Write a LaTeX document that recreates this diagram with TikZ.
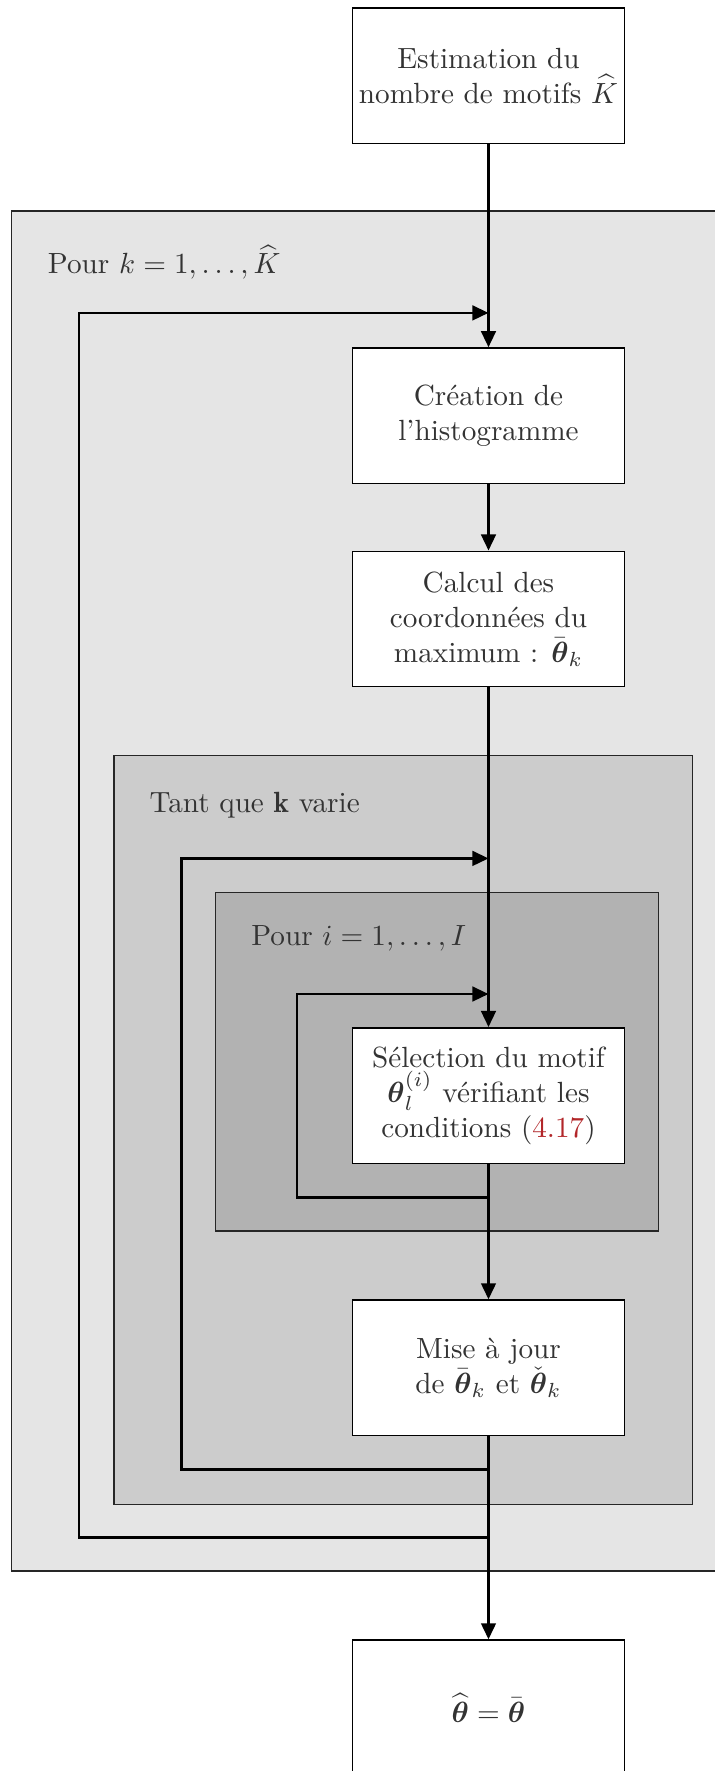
\documentclass[tikz,border=0pt]{standalone}
\usepackage{amsmath}
\usepackage{fontspec}
\usetikzlibrary{arrows.meta}
\definecolor{reflink}{rgb}{0.70,0.15,0.16}
\definecolor{txt}{gray}{0.2}
\begin{document}
\begin{tikzpicture}[x=0.3425pt,y=-0.3425pt,
  stepbox/.style={draw=black, line width=0.5pt, fill=white, text=txt,
    minimum width=93.2pt, minimum height=46.4pt, inner sep=0pt, align=center},
  region/.style={draw=black!85, line width=0.5pt},
  conn/.style={line width=0.9pt, draw=black},
  arr/.style={conn, -{Triangle[length=5.5pt,width=5pt]}},
  lbl/.style={anchor=west, text=txt, inner sep=0pt}]
\clip (0,0) rectangle (715,1771);
% regions
\path[region, fill=black!10] (11.3,211.2) rectangle (740,1571);
\path[region, fill=black!20] (114,755.6) rectangle (692.4,1504.5);
\path[region, fill=black!30] (215.7,892.3) rectangle (658.5,1231.2);
\node[lbl] (lk) at (47.4,262) {Pour $k=1,\ldots,\widehat{K}$};
\node[lbl] (lt) at (149,805) {Tant que $\mathbf{k}$ varie};
\node[lbl] (li) at (250.8,938.6) {Pour $i=1,\ldots,I$};
% boxes
\node[stepbox] (b1) at (488.5,75.6) {Estimation du\\nombre de motifs $\widehat{K}$};
\node[stepbox] (b2) at (488.5,415.7) {Création de\\l'histogramme};
\node[stepbox] (b3) at (488.5,619) {Calcul des\\coordonnées du\\maximum : $\bar{\boldsymbol{\theta}}_k$};
\node[stepbox] (b4) at (488.5,1095.5) {Sélection du motif\\$\boldsymbol{\theta}_l^{(i)}$ vérifiant les\\conditions (\textcolor{reflink}{4.17})};
\node[stepbox] (b5) at (488.5,1367.8) {Mise à jour\\de $\bar{\boldsymbol{\theta}}_k$ et $\check{\boldsymbol{\theta}}_k$};
\node[stepbox] (b6) at (488.5,1707.8) {$\widehat{\boldsymbol{\theta}}=\bar{\boldsymbol{\theta}}$};
% loop coordinates
\coordinate (j1b) at (488.5,1537.3);
\coordinate (c1b) at (79,1537.3);
\coordinate (c1t) at (79,312.9);
\coordinate (j1t) at (488.5,312.9);
\coordinate (j2b) at (488.5,1469.5);
\coordinate (c2b) at (181.8,1469.5);
\coordinate (c2t) at (181.8,858.4);
\coordinate (j2t) at (488.5,858.4);
\coordinate (j3b) at (488.5,1197.3);
\coordinate (c3b) at (297,1197.3);
\coordinate (c3t) at (297,994);
\coordinate (j3t) at (488.5,994);
% connectors
\draw[arr] (b1.south) -- (b2.north);
\draw[arr] (b2.south) -- (b3.north);
\draw[arr] (b3.south) -- (b4.north);
\draw[arr] (b4.south) -- (b5.north);
\draw[arr] (b5.south) -- (b6.north);
\draw[arr] (j1b) -- (c1b) -- (c1t) -- (j1t);
\draw[arr] (j2b) -- (c2b) -- (c2t) -- (j2t);
\draw[arr] (j3b) -- (c3b) -- (c3t) -- (j3t);
\end{tikzpicture}
\end{document}
